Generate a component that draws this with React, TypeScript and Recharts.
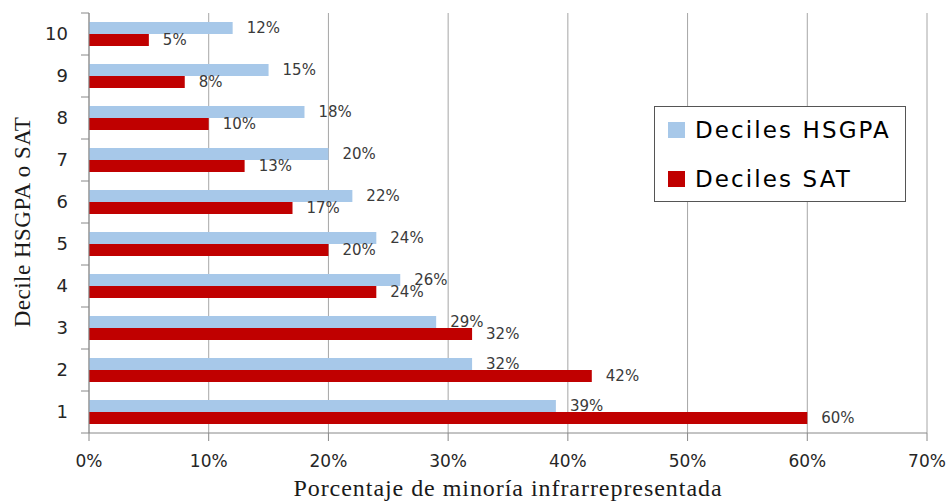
import React from 'react';
import {
  BarChart,
  Bar,
  XAxis,
  YAxis,
  CartesianGrid,
  Legend,
  LabelList
} from 'recharts';

// deciles listed top to bottom
const deciles = ['10', '9', '8', '7', '6', '5', '4', '3', '2', '1'];
const hsgpaPct = [12, 15, 18, 20, 22, 24, 26, 29, 32, 39];
const satPct = [5, 8, 10, 13, 17, 20, 24, 32, 42, 60];
const xTicks = [0, 10, 20, 30, 40, 50, 60, 70];

const seriesNames = { hsgpa: 'Deciles HSGPA', sat: 'Deciles SAT' };
const colors = { hsgpa: '#A7C8E9', sat: '#C00000' };

const chartData = deciles.map((d, i) => ({
  decile: d,
  hsgpa: hsgpaPct[i],
  sat: satPct[i]
}));

const W = 951;
const H = 501;
const MARGIN = { top: 13, right: 24, bottom: 0, left: 0 };
const Y_AXIS_W = 89;
const X_AXIS_H = 68;
const PLOT_LEFT = MARGIN.left + Y_AXIS_W;
const BAND = (H - MARGIN.top - MARGIN.bottom - X_AXIS_H) / deciles.length;

const SANS = '"DejaVu Sans", Verdana, sans-serif';
const SERIF = '"Liberation Serif", "Times New Roman", serif';

// category label plus a tick mark on the band boundary above (and below the last one)
const DecileTick = (props: any) => {
  const { x, y, payload, index } = props;
  const half = BAND / 2;
  return (
    <g>
      <text x={x} y={y} dy="0.36em" textAnchor="end" fill="#262626" fontSize={18} fontFamily={SANS}>
        {payload.value}
      </text>
      <line x1={PLOT_LEFT - 8} x2={PLOT_LEFT} y1={y - half} y2={y - half} stroke="#888" />
      {index === deciles.length - 1 && (
        <line x1={PLOT_LEFT - 8} x2={PLOT_LEFT} y1={y + half} y2={y + half} stroke="#888" />
      )}
    </g>
  );
};

const YTitle = (props: any) => {
  const { x, y, height } = props.viewBox;
  const cx = x + 22;
  const cy = y + height / 2 - 1;
  return (
    <text x={cx} y={cy} dy="0.35em" textAnchor="middle" transform={`rotate(-90 ${cx} ${cy})`}
      fill="#1a1a1a" fontSize={23} letterSpacing={0.5} fontFamily={SERIF}>
      Decile HSGPA o SAT
    </text>
  );
};

const XTitle = (props: any) => {
  const { x, y, width } = props.viewBox;
  return (
    <text x={x + width / 2} y={y + 63} textAnchor="middle" fill="#1a1a1a" fontSize={24}
      letterSpacing={0.95} fontFamily={SERIF}>
      Porcentaje de minoría infrarrepresentada
    </text>
  );
};

const LegendBox = () => (
  <div
    style={{
      width: 252,
      height: 96,
      border: '1px solid #555',
      background: '#fff',
      boxSizing: 'border-box',
      fontFamily: SANS,
      fontSize: 23,
      letterSpacing: 2.1,
      color: '#000'
    }}
  >
    {(['hsgpa', 'sat'] as const).map((k, i) => (
      <div key={k} style={{ position: 'absolute', left: 14, top: i === 0 ? 16 : 65, display: 'flex', alignItems: 'center' }}>
        <span style={{ width: 17, height: 16, background: colors[k], display: 'inline-block', marginRight: 10 }} />
        <span style={{ lineHeight: '16px' }}>{seriesNames[k]}</span>
      </div>
    ))}
  </div>
);

const labelStyle = { fill: '#3a3a3a', fontSize: 15, fontFamily: SANS };

export default function App() {
  return (
    <div style={{ position: 'absolute', left: 0, top: 0, width: W, height: H, background: '#fff' }}>
      <BarChart
        width={W}
        height={H}
        data={chartData}
        layout="vertical"
        margin={MARGIN}
        barSize={12}
        barGap={0}
      >
        <CartesianGrid horizontal={false} vertical stroke="#a6a6a6" />
        <XAxis
          type="number"
          domain={[0, 70]}
          ticks={xTicks}
          height={X_AXIS_H}
          tickFormatter={(v: number) => `${v}%`}
          axisLine={{ stroke: '#888' }}
          tickLine={{ stroke: '#888' }}
          tickSize={8}
          tickMargin={14}
          tick={{ fill: '#262626', fontSize: 17, fontFamily: SANS }}
          label={XTitle}
        />
        {/* frame along the top of the plot */}
        <XAxis
          xAxisId="top"
          orientation="top"
          type="number"
          domain={[0, 70]}
          height={0}
          tick={false}
          tickLine={false}
          axisLine={{ stroke: '#555' }}
        />
        <YAxis
          type="category"
          dataKey="decile"
          width={Y_AXIS_W}
          axisLine={{ stroke: '#888' }}
          tickLine={false}
          tickSize={8}
          tickMargin={13}
          tick={<DecileTick />}
          interval={0}
          label={YTitle}
        />
        {/* frame along the right of the plot */}
        <YAxis
          yAxisId="right"
          orientation="right"
          type="category"
          dataKey="decile"
          width={0}
          tick={false}
          tickLine={false}
          axisLine={{ stroke: '#555' }}
        />
        <Legend
          layout="horizontal"
          verticalAlign="middle"
          align="center"
          wrapperStyle={{ left: 654, top: 106, width: 252, height: 96 }}
          content={<LegendBox />}
        />
        <Bar dataKey="hsgpa" name={seriesNames.hsgpa} fill={colors.hsgpa} isAnimationActive={false}>
          <LabelList dataKey="hsgpa" position="right" offset={14} formatter={(v: any) => `${v}%`} style={labelStyle} />
        </Bar>
        <Bar dataKey="sat" name={seriesNames.sat} fill={colors.sat} isAnimationActive={false}>
          <LabelList dataKey="sat" position="right" offset={14} formatter={(v: any) => `${v}%`} style={labelStyle} />
        </Bar>
      </BarChart>
    </div>
  );
}
